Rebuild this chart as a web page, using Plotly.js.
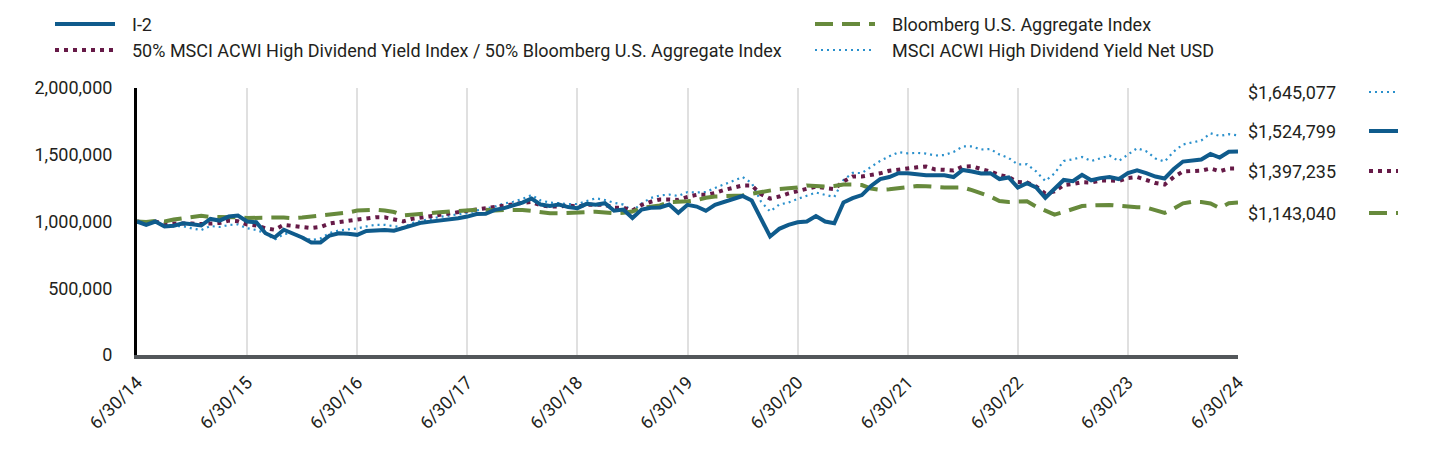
<!DOCTYPE html>
<html>
<head>
<meta charset="utf-8">
<script src="https://cdn.plot.ly/plotly-3.0.1.min.js"></script>
<style>
  html, body { margin: 0; padding: 0; background: #ffffff; }
  #chart { width: 1440px; height: 468px; }
</style>
</head>
<body>
<div id="chart"></div>
<script>
// ---- Data (monthly, 6/30/14 .. 6/30/24) ----
const tickLabels = ['6/30/14','6/30/15','6/30/16','6/30/17','6/30/18','6/30/19','6/30/20','6/30/21','6/30/22','6/30/23','6/30/24'];

const seriesNames = [
  'I-2',
  'Bloomberg U.S. Aggregate Index',
  '50% MSCI ACWI High Dividend Yield Index / 50% Bloomberg U.S. Aggregate Index',
  'MSCI ACWI High Dividend Yield Net USD'
];

const i2Values = [
  1000000, 975000, 1000000, 963000, 968000, 987000, 980000, 970000, 1019000, 1007000,
  1037000, 1045000, 1000000, 995000, 912000, 880000, 938000, 912000, 880000, 843000,
  843000, 895000, 912000, 908000, 900000, 929000, 934000, 937000, 931000, 950000,
  974000, 991000, 999000, 1007000, 1010000, 1024000, 1037000, 1056000, 1058000, 1087000,
  1100000, 1120000, 1142000, 1172000, 1127000, 1116000, 1127000, 1108000, 1100000, 1132000,
  1126000, 1137000, 1081000, 1090000, 1026000, 1090000, 1103000, 1105000, 1127000, 1065000,
  1125000, 1112000, 1080000, 1125000, 1146000, 1163000, 1191000, 1157000, 1030000, 888000,
  945000, 975000, 994000, 1000000, 1041000, 1000000, 987000, 1142000, 1175000, 1198000,
  1266000, 1318000, 1333000, 1362000, 1362000, 1351000, 1347000, 1346000, 1346000, 1333000,
  1386000, 1375000, 1360000, 1362000, 1318000, 1330000, 1255000, 1287000, 1255000, 1178000,
  1240000, 1311000, 1302000, 1350000, 1309000, 1325000, 1333000, 1318000, 1363000, 1383000,
  1363000, 1337000, 1322000, 1393000, 1449000, 1455000, 1464000, 1506000, 1479000, 1522000,
  1524799
];

const aggValues = [
  1000000, 996000, 1004000, 1000000, 1015000, 1025000, 1030000, 1043000, 1034000, 1035000,
  1036000, 1031000, 1026000, 1025000, 1027000, 1030000, 1030000, 1025000, 1030000, 1037000,
  1045000, 1051000, 1055000, 1067000, 1082000, 1088000, 1088000, 1082000, 1071000, 1045000,
  1049000, 1054000, 1063000, 1069000, 1075000, 1082000, 1088000, 1088000, 1088000, 1082000,
  1086000, 1088000, 1086000, 1079000, 1067000, 1062000, 1062000, 1065000, 1067000, 1073000,
  1073000, 1067000, 1062000, 1065000, 1075000, 1103000, 1109000, 1120000, 1145000, 1145000,
  1151000, 1160000, 1178000, 1187000, 1190000, 1193000, 1195000, 1208000, 1221000, 1229000,
  1244000, 1249000, 1255000, 1270000, 1264000, 1261000, 1266000, 1277000, 1277000, 1273000,
  1247000, 1237000, 1241000, 1247000, 1258000, 1266000, 1264000, 1258000, 1255000, 1255000,
  1255000, 1235000, 1214000, 1187000, 1154000, 1146000, 1150000, 1151000, 1112000, 1082000,
  1052000, 1071000, 1094000, 1116000, 1120000, 1122000, 1124000, 1118000, 1110000, 1107000,
  1105000, 1088000, 1064000, 1097000, 1136000, 1148000, 1146000, 1135000, 1101000, 1137000,
  1143040
];

const blendValues = [
  1000000, 989000, 1000000, 981000, 985000, 987000, 985000, 981000, 985000, 989000,
  1007000, 1002000, 978000, 970000, 950000, 938000, 975000, 966000, 963000, 951000,
  959000, 985000, 996000, 1004000, 1011000, 1026000, 1032000, 1031000, 1019000, 1001000,
  1020000, 1030000, 1043000, 1054000, 1060000, 1071000, 1080000, 1090000, 1101000, 1110000,
  1124000, 1131000, 1139000, 1146000, 1121000, 1112000, 1112000, 1120000, 1112000, 1125000,
  1125000, 1125000, 1103000, 1103000, 1082000, 1124000, 1148000, 1165000, 1165000, 1161000,
  1184000, 1200000, 1200000, 1214000, 1236000, 1251000, 1270000, 1270000, 1205000, 1172000,
  1187000, 1210000, 1225000, 1247000, 1262000, 1251000, 1243000, 1300000, 1337000, 1337000,
  1348000, 1361000, 1380000, 1391000, 1399000, 1406000, 1412000, 1390000, 1387000, 1382000,
  1412000, 1414000, 1393000, 1375000, 1348000, 1333000, 1296000, 1292000, 1262000, 1210000,
  1225000, 1273000, 1281000, 1294000, 1292000, 1307000, 1307000, 1303000, 1326000, 1333000,
  1311000, 1288000, 1277000, 1333000, 1375000, 1375000, 1381000, 1397000, 1376000, 1397000,
  1397235
];

const hdyValues = [
  1000000, 993000, 1000000, 970000, 963000, 966000, 948000, 936000, 966000, 959000,
  974000, 978000, 950000, 936000, 912000, 863000, 906000, 912000, 884000, 861000,
  873000, 914000, 933000, 938000, 948000, 963000, 975000, 975000, 963000, 955000,
  989000, 1002000, 1020000, 1034000, 1043000, 1052000, 1064000, 1082000, 1095000, 1112000,
  1135000, 1148000, 1169000, 1198000, 1157000, 1142000, 1137000, 1131000, 1131000, 1154000,
  1174000, 1161000, 1140000, 1127000, 1079000, 1135000, 1176000, 1195000, 1202000, 1191000,
  1221000, 1217000, 1221000, 1251000, 1281000, 1305000, 1333000, 1288000, 1150000, 1075000,
  1127000, 1142000, 1169000, 1193000, 1217000, 1199000, 1184000, 1311000, 1364000, 1363000,
  1408000, 1454000, 1488000, 1519000, 1511000, 1514000, 1509000, 1494000, 1498000, 1521000,
  1562000, 1562000, 1539000, 1543000, 1502000, 1476000, 1427000, 1429000, 1375000, 1303000,
  1360000, 1453000, 1466000, 1483000, 1453000, 1474000, 1494000, 1453000, 1502000, 1549000,
  1526000, 1472000, 1449000, 1524000, 1577000, 1592000, 1607000, 1661000, 1641000, 1654000,
  1645077
];

const endLabels = ['$1,645,077', '$1,524,799', '$1,397,235', '$1,143,040'];
const yTicks = [0, 500000, 1000000, 1500000, 2000000];

// ---- Styles ----
const C_I2 = '#0f5b8c';
const C_AGG = '#678a3c';
const C_BLEND = '#661a47';
const C_HDY = '#2a90cc';
const S_I2 = {color: C_I2, width: 4, dash: 'solid'};
const S_AGG = {color: C_AGG, width: 4, dash: '18px,9px'};
const S_BLEND = {color: C_BLEND, width: 4, dash: '4px,5px'};
const S_HDY = {color: C_HDY, width: 2.2, dash: '2px,4px'};

const months = i2Values.map((_, i) => i);
const FONT = 'Roboto, "Liberation Sans", Arial, sans-serif';
const TXT = '#231f20';
const FS = 18;

// plot area geometry (pixels)
const L = 137, R = 1238, T = 88, B = 355;
const W = R - L, H = B - T;
const px = x => (x - L) / W;
const py = y => (B - y) / H;

function mk(name, y, style) {
  return {x: months, y: y, name: name, type: 'scatter', mode: 'lines',
          line: Object.assign({shape: 'linear'}, style), hoverinfo: 'skip', showlegend: false};
}

const traces = [
  mk(seriesNames[3], hdyValues, S_HDY),
  mk(seriesNames[2], blendValues, S_BLEND),
  mk(seriesNames[1], aggValues, S_AGG),
  mk(seriesNames[0], i2Values, S_I2)
];

const shapes = [];
const annotations = [];
function legendItem(x0, x1, y, style, text) {
  shapes.push({type: 'line', xref: 'paper', yref: 'paper', x0: px(x0), x1: px(x1), y0: py(y), y1: py(y),
               line: {color: style.color, width: style.width, dash: style.dash}});
  annotations.push({xref: 'paper', yref: 'paper', x: px(x1 + 15), y: py(y), xanchor: 'left', yanchor: 'middle',
                    text: text, showarrow: false, font: {family: FONT, size: FS, color: TXT}});
}
// top legend: two columns
legendItem(55, 115, 24, S_I2, seriesNames[0]);
legendItem(55, 115, 50, S_BLEND, seriesNames[2]);
legendItem(815, 875, 24, S_AGG, seriesNames[1]);
legendItem(815, 875, 50, S_HDY, seriesNames[3]);

// right-side ending values
const endStyles = [S_HDY, S_I2, S_BLEND, S_AGG];
const endY = [92, 131, 171, 213];
endLabels.forEach((t, i) => {
  annotations.push({xref: 'paper', yref: 'paper', x: px(1246), y: py(endY[i]), xanchor: 'left', yanchor: 'middle',
                    text: t, showarrow: false, font: {family: FONT, size: FS, color: TXT}});
  shapes.push({type: 'line', xref: 'paper', yref: 'paper', x0: px(1369), x1: px(1398), y0: py(endY[i]), y1: py(endY[i]),
               line: {color: endStyles[i].color, width: endStyles[i].width, dash: endStyles[i].dash}});
});

const layout = {
  width: 1440, height: 468,
  margin: {l: L, r: 1440 - R, t: T, b: 468 - B, pad: 0},
  paper_bgcolor: '#ffffff', plot_bgcolor: '#ffffff',
  showlegend: false,
  font: {family: FONT, size: FS, color: TXT},
  xaxis: {
    range: [0, 120], tickmode: 'array', tickvals: tickLabels.map((_, i) => i * 12), ticktext: tickLabels,
    tickangle: -45, tickfont: {family: FONT, size: FS, color: TXT},
    showgrid: true, gridcolor: '#e0e0e0', gridwidth: 2, zeroline: false,
    showline: true, linecolor: '#53575a', linewidth: 4,
    ticks: 'outside', ticklen: 6, tickcolor: 'rgba(0,0,0,0)', fixedrange: true
  },
  yaxis: {
    range: [0, 2000000], tickmode: 'array', tickvals: yTicks, tickformat: ',d',
    tickfont: {family: FONT, size: FS, color: TXT},
    showgrid: false, zeroline: false, showline: true, linecolor: '#000000', linewidth: 3,
    ticks: 'outside', ticklen: 18, tickcolor: 'rgba(0,0,0,0)', fixedrange: true
  },
  shapes: shapes,
  annotations: annotations
};

Plotly.newPlot('chart', traces, layout, {staticPlot: true, displayModeBar: false});
</script>
</body>
</html>
